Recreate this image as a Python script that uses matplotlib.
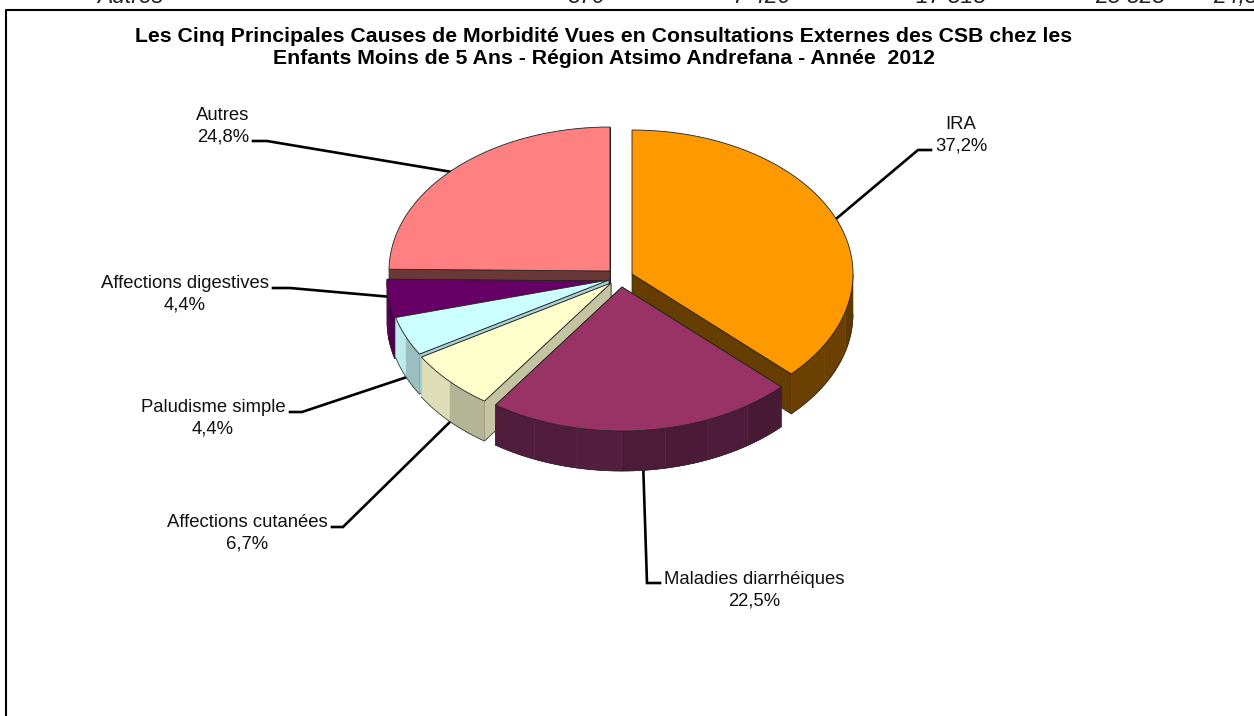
import numpy as np
import matplotlib
matplotlib.use("Agg")
import matplotlib.pyplot as plt
from matplotlib.patches import Polygon

plt.rcParams['font.family'] = ['Liberation Sans', 'DejaVu Sans']

# donnees
causes = ["IRA", "Maladies diarrhéiques", "Affections cutanées",
          "Paludisme simple", "Affections digestives", "Autres"]
parts = [37.2, 22.5, 6.7, 4.4, 4.4, 24.8]
pct_labels = ["37,2%", "22,5%", "6,7%", "4,4%", "4,4%", "24,8%"]
titre = ("Les Cinq Principales Causes de Morbidité Vues en Consultations Externes des CSB chez les\n"
         "Enfants Moins de 5 Ans - Région Atsimo Andrefana - Année  2012")
ligne_haut = ["Autres", "379", "7 420", "17 818", "25 828", "24,8"]

# style
couleurs = ["#FF9900", "#993366", "#FFFFCC", "#CCFFFF", "#660066", "#FF8080"]
parois = ["#663D00", "#4E1C3A", "#C4C4A3", "#A8D0D0", "#520052", "#6B3838"]
centres = [(632, 274), (622, 287), (611, 283), (609, 280), (608, 281), (610, 271)]
ordre = [5, 4, 3, 2, 0, 1]
RX, RY, H = 221, 144, 40

pos_labels = [(961, 135.5), (754, 590), (247, 533.5), (213, 418), (185, 294), (223, 126)]
leaders = [
    [(931, 150), (918, 150), (830, 224)],
    [(660, 583), (647, 583), (643, 460)],
    [(332, 527), (343, 527), (455, 417)],
    [(290, 412), (302, 412), (410, 376)],
    [(273, 288), (290, 288), (392, 297)],
    [(253, 141), (267, 141), (452, 172)],
]
haut_x = [97, 606, 790, 986, 1165, 1213]
haut_ha = ["left", "right", "right", "right", "right", "left"]

fig = plt.figure(figsize=(12.54, 7.16), dpi=100)
ax = fig.add_axes([0, 0, 1, 1])
ax.set_xlim(0, 1254)
ax.set_ylim(716, 0)
ax.axis("off")


def point(c, theta, z=0):
    return c[0] + RX * np.sin(theta), c[1] - RY * np.cos(theta) + z


def assombrir(col, f):
    rgb = np.array(matplotlib.colors.to_rgb(col)) * f
    return np.clip(rgb, 0, 1)


# bornes des parts (sens horaire depuis le haut)
cumul = np.cumsum([0] + parts) / sum(parts) * 2 * np.pi

# cadre
ax.plot([6, 6, 1254], [716, 10, 10], color="black", lw=1.5, zorder=1)

# ligne du tableau coupee en haut
for txt, x, ha in zip(ligne_haut, haut_x, haut_ha):
    ax.text(x, 3, txt, ha=ha, va="baseline", style="italic", fontsize=16.5,
            color="#222222", clip_on=False, zorder=1)

ax.text(604, 47.5, titre, ha="center", va="center", fontweight="bold",
        fontsize=15.3, linespacing=1.25, zorder=5)

# traits de rappel
for pts in leaders:
    ax.plot([p[0] for p in pts], [p[1] for p in pts], color="black", lw=1.9,
            solid_joinstyle="miter", zorder=2)

# camembert 3D, de l'arriere vers l'avant
z = 3
for i in ordre:
    t0, t1 = cumul[i], cumul[i + 1]
    c = centres[i]
    # parois radiales : celle qui est le plus vers l'avant en dernier
    for t in sorted((t0, t1), key=lambda a: -np.cos(a)):
        ax.add_patch(Polygon([c, point(c, t), point(c, t, H), (c[0], c[1] + H)],
                             closed=True, fc=parois[i], ec="#222222", lw=0.5, zorder=z))
        z += 1
    # paroi exterieure en bandes
    front0, front1 = max(t0, np.pi / 2), min(t1, 3 * np.pi / 2)
    if front1 > front0:
        nb = max(2, int((front1 - front0) / np.radians(11)))
        bords = np.linspace(front0, front1, nb + 1)
        for k in range(nb):
            th = np.linspace(bords[k], bords[k + 1], 8)
            x, y = point(c, th)
            pts = list(zip(x, y)) + list(zip(x[::-1], y[::-1] + H))
            f = 0.92 + 0.16 * k / (nb - 1) + 0.05 * np.sin(k * 1.9)
            ax.add_patch(Polygon(pts, closed=True, fc=assombrir(parois[i], f),
                                 ec=assombrir(parois[i], f), lw=0.4, zorder=z))
        z += 1
        th = np.linspace(front0, front1, 60)
        x, y = point(c, th)
        ax.plot(x, y + H, color="#222222", lw=0.5, zorder=z)
        z += 1
    # dessus
    th = np.linspace(t0, t1, 120)
    x, y = point(c, th)
    ax.add_patch(Polygon([c] + list(zip(x, y)), closed=True, fc=couleurs[i],
                         ec="#222222", lw=0.6, zorder=z))
    z += 1

# etiquettes
for nom, pct, pos in zip(causes, pct_labels, pos_labels):
    ax.text(pos[0], pos[1], nom + "\n" + pct, ha="center", va="center",
            fontsize=13.3, linespacing=1.33, color="#111111", zorder=z)

fig.savefig("out.png", dpi=100)
